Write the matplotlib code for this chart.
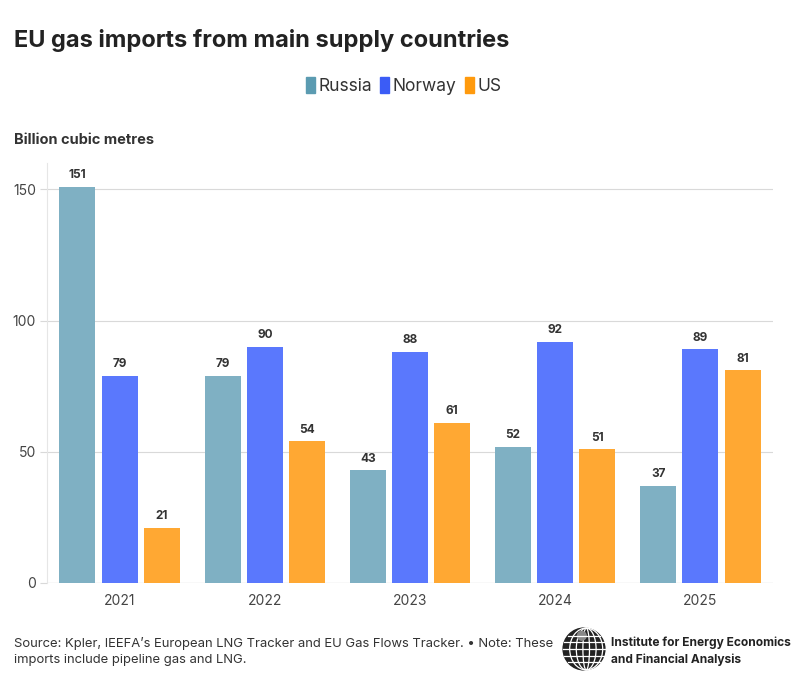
import matplotlib
matplotlib.use('Agg')
import matplotlib.pyplot as plt
import numpy as np
from matplotlib.patches import Circle, Ellipse

plt.rcParams['font.family'] = ['Inter', 'DejaVu Sans']

years = ['2021', '2022', '2023', '2024', '2025']
russia = [151, 79, 43, 52, 37]
norway = [79, 90, 88, 92, 89]
us = [21, 54, 61, 51, 81]

series_names = ['Russia', 'Norway', 'US']
bar_colors = ['#7fb0c3', '#5a78fd', '#ffa833']
legend_colors = ['#5b9bb1', '#3b5cf6', '#ff9a0d']

fig = plt.figure(figsize=(8.07, 6.9), dpi=100)
ax = fig.add_axes([47 / 807, 1 - 583 / 690, 726 / 807, 420 / 690])

x = np.arange(len(years))
width = 0.248
offsets = [-0.29, 0, 0.29]
for vals, off, col in zip([russia, norway, us], offsets, bar_colors):
    bars = ax.bar(x + off, vals, width, color=col, zorder=2)
    for b, v in zip(bars, vals):
        ax.annotate(str(v), (b.get_x() + b.get_width() / 2, v), xytext=(0, 4),
                    textcoords='offset points', ha='center', va='bottom',
                    fontsize=8.5, fontweight='bold', color='#333333')

ax.set_xlim(-0.5, 4.5)
ax.set_ylim(0, 160)
ax.set_yticks([0, 50, 100, 150])
ax.set_xticks(x)
ax.set_xticklabels(years)
ax.grid(axis='y', color='#d9d9d9', linewidth=0.8, zorder=0)
for s in ['top', 'right', 'bottom']:
    ax.spines[s].set_visible(False)
ax.spines['left'].set_color('#e6e6e6')
ax.axhline(0, color='#e6e6e6', linewidth=1, zorder=1)
ax.tick_params(axis='y', length=5, color='#d9d9d9', labelsize=10, labelcolor='#444444', pad=3)
ax.tick_params(axis='x', length=0, labelsize=10, labelcolor='#444444', pad=8)

fig.text(14 / 807, 1 - 40 / 690, 'EU gas imports from main supply countries', fontsize=17,
         fontweight='bold', color='#222222', va='center')
fig.text(14 / 807, 1 - 140 / 690, 'Billion cubic metres', fontsize=10.5,
         fontweight='bold', color='#333333', va='center')

# legend
handles = [plt.Rectangle((0, 0), 1, 1, color=c) for c in legend_colors]
fig.legend(handles, series_names, loc='center', bbox_to_anchor=(0.5, 1 - 86 / 690), ncol=3,
           frameon=False, fontsize=12.5, handlelength=0.5, handleheight=1.0,
           handletextpad=0.2, columnspacing=0.5, labelcolor='#333333')

fig.text(14 / 807, 1 - 643 / 690,
         'Source: Kpler, IEEFA\u2019s European LNG Tracker and EU Gas Flows Tracker. \u2022 Note: These',
         fontsize=9.4, color='#333333', va='center')
fig.text(14 / 807, 1 - 660 / 690, 'imports include pipeline gas and LNG.',
         fontsize=9.4, color='#333333', va='center')

# logo
lax = fig.add_axes([562 / 807, 1 - 671 / 690, 44 / 807, 44 / 690])
lax.set_xlim(-1, 1)
lax.set_ylim(-1, 1)
lax.set_aspect('equal')
lax.axis('off')
lax.add_patch(Circle((0, 0), 0.95, color='#222222'))
for w in [0.3, 0.9, 1.5]:
    lax.add_patch(Ellipse((0.1, 0), w, 1.9, fill=False, ec='white', lw=0.9))
for yy in [-0.6, -0.3, 0, 0.3, 0.6]:
    hw = np.sqrt(0.95 ** 2 - yy ** 2)
    lax.plot([-hw, hw], [yy, yy], color='white', lw=0.9)
lax.add_patch(Circle((-0.1, 0.6), 0.2, color='#888888'))

fig.text(611 / 807, 1 - 643 / 690, 'Institute for Energy Economics', fontsize=8.6,
         fontweight='bold', color='#222222', va='center')
fig.text(611 / 807, 1 - 660 / 690, 'and Financial Analysis', fontsize=8.6,
         fontweight='bold', color='#222222', va='center')

fig.savefig('out.png', dpi=100, facecolor='white')
